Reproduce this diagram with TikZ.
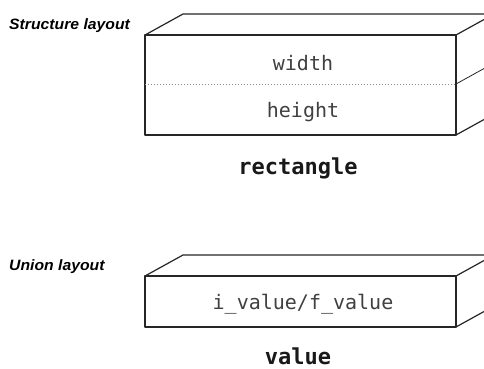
\documentclass[tikz,border=0pt]{standalone}
\usepackage{fontspec}
\newfontfamily\codefont{DejaVu Sans Mono}
\newfontfamily\labelfont{Liberation Sans}
\begin{document}
\begin{tikzpicture}[x=1pt,y=-1pt,
  edge/.style={draw=black!85,line width=1.2pt,line join=round},
  divider/.style={draw=black!45,line width=1pt,dotted},
  field/.style={font=\codefont\fontsize{20}{24}\selectfont,text=black!75,inner sep=0pt},
  typename/.style={font=\codefont\bfseries\fontsize{22}{26}\selectfont,text=black!90,inner sep=0pt},
  layoutlabel/.style={font=\labelfont\bfseries\itshape\fontsize{15}{18}\selectfont,text=black,inner sep=0pt,anchor=west,xscale=1.05}]
\useasboundingbox (0,0) rectangle (484,369);
\clip (0,0) rectangle (484,369);
\fill[white] (0,0) rectangle (484,369);

% struct: two stacked fields in one box
\coordinate (sA) at (145,35);
\coordinate (sB) at (456,35);
\coordinate (sC) at (456,135);
\coordinate (sD) at (145,135);
\coordinate (sM) at (145,84);
\coordinate (sN) at (456,84);
\def\dx{38}\def\dy{-21}
\draw[edge] (sA) -- (sB) -- (sC) -- (sD) -- cycle;
\draw[edge] (sA) -- ++(\dx,\dy) -- ++(400,0);
\draw[edge] (sB) -- ++(\dx,\dy);
\draw[edge] (sC) -- ++(\dx,\dy);
\draw[divider] (sM) -- (sN);
\draw[edge,line width=0.8pt] (sN) -- ++(\dx,\dy);

\node[layoutlabel] (structlbl) at (9,26) {Structure layout};
\node[field] (fwidth) at (303,63) {width};
\node[field] (fheight) at (303,112) {height};
\node[typename] (rect) at (298,168) {rectangle};

% union: one shared field
\coordinate (uA) at (145,276);
\coordinate (uB) at (456,276);
\coordinate (uC) at (456,327);
\coordinate (uD) at (145,327);
\draw[edge] (uA) -- (uB) -- (uC) -- (uD) -- cycle;
\draw[edge] (uA) -- ++(\dx,\dy) -- ++(400,0);
\draw[edge] (uB) -- ++(\dx,\dy);
\draw[edge] (uC) -- ++(\dx,\dy);

\node[layoutlabel] (unionlbl) at (9,267) {Union layout};
\node[field] (fval) at (303,304) {i\_value/f\_value};
\node[typename] (val) at (298,356) {value};
\end{tikzpicture}
\end{document}
